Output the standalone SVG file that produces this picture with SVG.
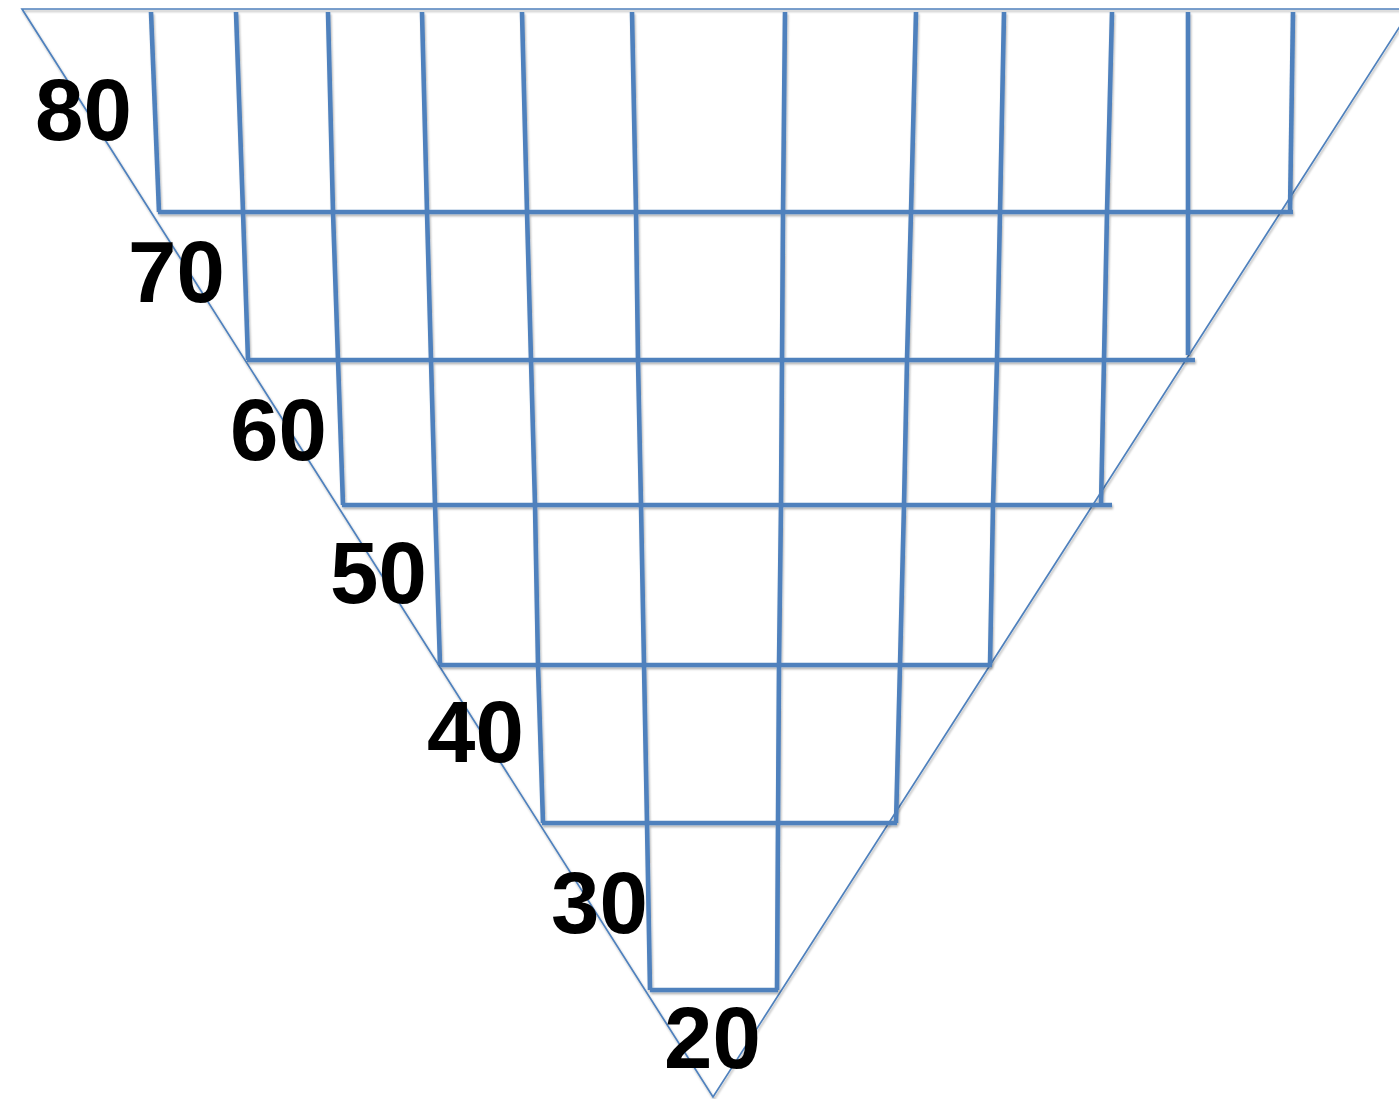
<svg xmlns="http://www.w3.org/2000/svg" width="1399" height="1099" viewBox="0 0 1399 1099">
<defs>
<filter id="sh" x="-5%" y="-5%" width="110%" height="110%">
<feDropShadow dx="1" dy="2" stdDeviation="1.2" flood-color="#000" flood-opacity="0.3"/>
</filter>
</defs>
<style>
.tri{fill:none;stroke:#4F81BD;stroke-width:1.7}
.g{fill:none;stroke:#4F81BD;stroke-width:4.6;stroke-linejoin:miter}
.lbl{font-family:"Liberation Sans",Arial,sans-serif;font-weight:bold;font-size:87px;fill:#000}
</style>
<rect width="1399" height="1099" fill="#fff"/>
<g id="triangle" filter="url(#sh)">
<polygon class="tri" points="22,9 1411,9 713,1097"/>
</g>
<g id="connectors" filter="url(#sh)">
<polyline class="g" points="151,12 159,212"/>
<polyline class="g" points="236,12 243,212 248,360"/>
<polyline class="g" points="328,12 333,212 338,360 343,505"/>
<polyline class="g" points="422,12 427,212 431,360 435,505 440,665"/>
<polyline class="g" points="522,12 527,212 531,360 535,505 538,665 543,823"/>
<polyline class="g" points="632,12 636,212 638,360 641,505 644,665 647,823 650,990"/>
<polyline class="g" points="785,12 783,212 782,360 781,505 779,665 778,823 777,990"/>
<polyline class="g" points="916,12 911,212 907,360 904,505 900,665 896,823"/>
<polyline class="g" points="1004,12 1000,212 997,360 993,505 990,665"/>
<polyline class="g" points="1112,12 1107,212 1104,360 1101,505"/>
<polyline class="g" points="1188,12 1188,355"/>
<polyline class="g" points="1293,12 1290,212"/>
<line class="g" x1="158" y1="212" x2="1293" y2="212"/>
<line class="g" x1="247" y1="360" x2="1195" y2="360"/>
<line class="g" x1="342" y1="505" x2="1112" y2="505"/>
<line class="g" x1="440" y1="665" x2="992" y2="665"/>
<line class="g" x1="542" y1="823" x2="897" y2="823"/>
<line class="g" x1="650" y1="990" x2="778" y2="990"/>
</g>
<g id="labels">
<text class="lbl" x="35" y="140">80</text>
<text class="lbl" x="128" y="302">70</text>
<text class="lbl" x="230" y="460">60</text>
<text class="lbl" x="330" y="603">50</text>
<text class="lbl" x="427" y="762">40</text>
<text class="lbl" x="551" y="933">30</text>
<text class="lbl" x="664" y="1068">20</text>
</g>
</svg>
